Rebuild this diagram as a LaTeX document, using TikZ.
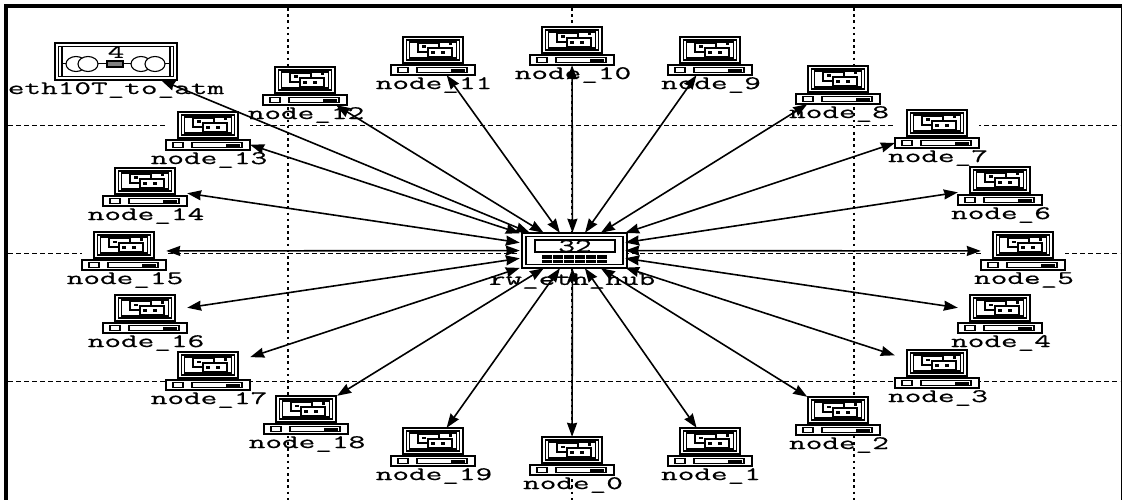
\documentclass[tikz,border=0pt]{standalone}
\usepackage{fontspec}
\usetikzlibrary{arrows.meta}
\newfontfamily\netfont[FakeStretch=1.7,FakeBold=0.6]{Latin Modern Mono}
\tikzset{
  iconbox/.style={rectangle,fill=white,inner sep=0pt,minimum width=84pt,minimum height=38pt},
  iconline/.style={draw=black,line width=1.8pt,fill=white},
  thin line/.style={draw=black,line width=1.1pt},
  netlabel/.style={font=\netfont\fontsize{19}{19}\selectfont,inner sep=0pt,text=black},
  link/.style={draw=black,line width=1.6pt,{Stealth[length=14pt,width=10pt,inset=1pt]}-{Stealth[length=14pt,width=10pt,inset=1pt]}},
  gridv/.style={draw=black,line width=2.6pt,dash pattern=on 2.6pt off 3.6pt},
  gridh/.style={draw=black,line width=1pt,dash pattern=on 5pt off 3pt},
}
\newcommand{\pcnode}[4]{%
  \node[iconbox] (#1) at (#2,#3+19) {};
  \node[netlabel] (#1-l) at (#2+1,#3+48) {#4};
  \begin{scope}[shift={(#2,#3)}]
    \draw[iconline] (-30,0) rectangle (30,26);
    \draw[thin line] (-26.5,3) rectangle (26.5,23);
    \draw[thin line] (-23.5,5) rectangle (23.5,21);
    \draw[thin line,fill=white] (-15,6) rectangle (6,15);
    \draw[iconline] (-5,11) rectangle (19,20);
    \fill (-2,14) rectangle (2,17);
    \fill (8,14) rectangle (12,17);
    \fill (-11,8.5) rectangle (-7,11);
    \fill (15.5,5.5) rectangle (19,8.5);
    \draw[thin line] (-20,26) -- (-20,28) (20,26) -- (20,28);
    \draw[iconline] (-42,28) rectangle (42,38);
    \draw[thin line] (-35,30.5) rectangle (-25,35.5);
    \draw[thin line] (-16,30.5) rectangle (34,35.5);
    \fill (18,32) rectangle (32,35);
  \end{scope}
}
\begin{document}
\begin{tikzpicture}[x=1pt,y=-1pt]
\useasboundingbox (0,0) rectangle (1122,500);
\fill[white] (0,0) rectangle (1122,500);
% frame
\fill[black] (4,4) rectangle (1122,8);
\fill[black] (4,4) rectangle (8,500);
\fill[black] (1120.7,4) rectangle (1122,500);
% grid
\foreach \gx in {288,572,854} \draw[gridv] (\gx,8) -- (\gx,500);
\foreach \gy in {126,253,381} \draw[gridh] (8,\gy) -- (1120,\gy);
% computers
\pcnode{n0}{572}{437}{node\_0}
\pcnode{n1}{710}{428}{node\_1}
\pcnode{n2}{838}{397}{node\_2}
\pcnode{n3}{937}{350}{node\_3}
\pcnode{n4}{1000}{295}{node\_4}
\pcnode{n5}{1023}{232}{node\_5}
\pcnode{n6}{1000}{167}{node\_6}
\pcnode{n7}{937}{110}{node\_7}
\pcnode{n8}{838}{66}{node\_8}
\pcnode{n9}{710}{37}{node\_9}
\pcnode{n10}{572}{27}{node\_10}
\pcnode{n11}{433}{37}{node\_11}
\pcnode{n12}{305}{67}{node\_12}
\pcnode{n13}{208}{112}{node\_13}
\pcnode{n14}{145}{168}{node\_14}
\pcnode{n15}{124}{232}{node\_15}
\pcnode{n16}{145}{295}{node\_16}
\pcnode{n17}{208}{352}{node\_17}
\pcnode{n18}{306}{396}{node\_18}
\pcnode{n19}{433}{428}{node\_19}
% router icon
\node[rectangle,fill=white,inner sep=0pt,minimum width=122pt,minimum height=37pt] (eth) at (116,61.5) {};
\draw[iconline] (55,43) rectangle (177,80);
\draw[thin line] (58.5,46.5) rectangle (173.5,76.5);
\draw[thin line] (62,46) -- (62,77) (170,46) -- (170,77);
\draw[thin line] (62,63.5) -- (170,63.5);
\foreach \cx in {76,88,141,155} \draw[thin line,fill=white] (\cx,64) ellipse (10 and 7.5);
\draw[thin line,fill=black!50] (107,61) rectangle (123,67);
\node[netlabel] (eth-n) at (116,52) {4};
\node[netlabel] (eth-l) at (116,90) {eth10T\_to\_atm};
% hub
\node[rectangle,fill=white,inner sep=0pt,minimum width=105pt,minimum height=35pt] (hub) at (572.5,250.5) {};
\draw[iconline] (522,233) rectangle (627,268);
\draw[thin line] (526,236.5) rectangle (623,264.5);
\draw[iconline] (535,240) rectangle (615,252);
\node[netlabel] (hub-n) at (575,246) {32};
\foreach \bx in {542,553,564,575,586,597}
  \foreach \by in {255,259.7} \fill[black] (\bx,\by) rectangle ++(9.5,3.5);
\node[netlabel] (hub-l) at (572,281) {rw\_eth\_hub};
% connectors
\foreach \k in {0,...,19} \draw[link] (hub) -- (n\k);
\draw[link] (hub) -- (eth);
\end{tikzpicture}
\end{document}
